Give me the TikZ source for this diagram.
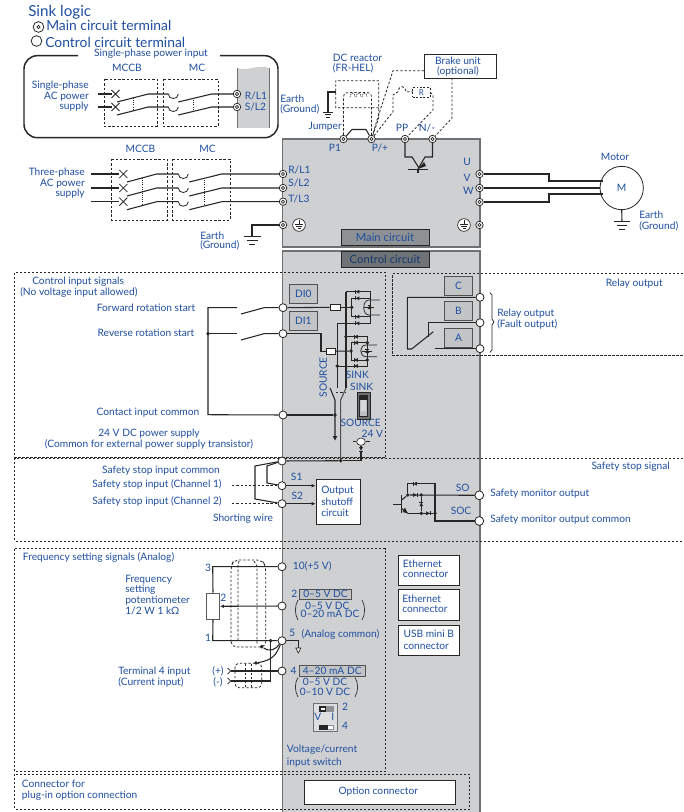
\documentclass[tikz,border=0pt]{standalone}
\usepackage{fontspec}
\setmainfont{Lato}
\usetikzlibrary{arrows.meta,shapes.geometric}
\definecolor{ink}{HTML}{262626}
\definecolor{txt}{HTML}{1F4FA0}
\definecolor{gbox}{HTML}{CFD0D2}
\definecolor{gedge}{HTML}{6F7173}
\definecolor{gmain}{HTML}{8E9194}
\definecolor{gctrl}{HTML}{707376}
\definecolor{gsmall}{HTML}{BDBFC1}
\tikzset{
  x=0.75pt,y=-0.75pt,
  wire/.style={draw=ink,line width=0.8pt},
  thin wire/.style={draw=ink,line width=0.55pt},
  dash line/.style={draw=ink,line width=0.6pt,dash pattern=on 1.8pt off 1.4pt},
  region/.style={draw=ink,line width=0.5pt,dash pattern=on 1.7pt off 1.3pt},
  txtn/.style={inner sep=0pt,text=txt,font=\fontsize{7.65}{8.5}\selectfont},
  tc/.style={txtn,anchor=center},
  tl/.style={txtn,anchor=west},
  tr/.style={txtn,anchor=east},
  head/.style={tl,font=\fontsize{10.4}{12}\selectfont},
  mterm/.style={circle,draw=ink,line width=0.55pt,fill=white,minimum size=5.6pt,inner sep=0pt,
    path picture={\draw[ink,line width=0.5pt] (path picture bounding box.center) circle (1.6);}},
  cterm/.style={circle,draw=ink,line width=0.6pt,fill=white,minimum size=6pt,inner sep=0pt},
  dotn/.style={circle,fill=ink,minimum size=2.9pt,inner sep=0pt},
  whitebox/.style={draw=ink,line width=0.6pt,fill=white,inner sep=0pt,anchor=north west},
  graybox/.style={draw=ink!80,line width=0.6pt,fill=gsmall!70!gbox,inner sep=0pt,anchor=center,text=txt,font=\fontsize{7.65}{8.5}\selectfont},
  arr/.style={-{Latex[length=3pt,width=2.6pt]}},
}
\newcommand\diodeH[3]{\begin{scope}[shift={(#1,#2)},xscale=#3]\fill[ink] (-1.8,-1.9)--(1.8,0)--(-1.8,1.9)--cycle;\draw[ink,line width=0.45pt] (1.8,-1.9)--(1.8,1.9);\end{scope}}
\newcommand\diodeV[3]{\begin{scope}[shift={(#1,#2)},yscale=#3]\fill[ink] (-1.9,-1.8)--(0,1.8)--(1.9,-1.8)--cycle;\draw[ink,line width=0.45pt] (-1.9,1.8)--(1.9,1.8);\end{scope}}
\newcommand\gndsym[3]{\begin{scope}[shift={(#1,#2)},scale=#3]\draw[ink,line width=0.6pt] (-8.5,0)--(8.5,0) (-5.5,4.5)--(5.5,4.5) (-3,8.5)--(3,8.5);\end{scope}}
\newcommand\crossm[2]{\begin{scope}[shift={(#1,#2)}]\draw[ink,line width=0.55pt] (-4,-4)--(4,4) (-4,4)--(4,-4);\end{scope}}
\newcommand\dcup[2]{\begin{scope}[shift={(#1,#2)}]\draw[ink,line width=0.6pt] (0,0) .. controls (0,6) and (10,6) .. (10,0);\end{scope}}
\begin{document}
\begin{tikzpicture}
\useasboundingbox (0,0) rectangle (683,812);
\fill[white] (0,0) rectangle (683,812);
% grey blocks
\draw[gedge,line width=0.9pt,fill=gbox] (282.5,139) rectangle (480,247);
\draw[gedge,line width=0.9pt,fill=gbox] (282.5,812) -- (282.5,251) -- (480,251) -- (480,812);
\node[draw=ink,line width=0.6pt,fill=gmain,inner sep=0pt,minimum width=66pt,minimum height=12pt,text=txt,font=\fontsize{8.5}{10}\selectfont] (mainbox) at (385,237) {Main circuit};
\node[draw=ink,line width=0.6pt,fill=gctrl,inner sep=0pt,minimum width=66pt,minimum height=12pt,text=txt!70!black,font=\fontsize{8.5}{10}\selectfont] (ctrlbox) at (385,259) {Control circuit};
% dashed regions
\draw[region] (385,457) -- (385,272) -- (14.7,272) -- (14.7,457) -- (385,457);
\draw[region] (683,458.5) -- (14.7,458.5) -- (14.7,541) -- (683,541);
\draw[region] (683,273.7) -- (392.7,273.7) -- (392.7,355.7) -- (683,355.7);
\draw[region] (14.7,548.7) rectangle (385,771.7);
\draw[region] (14.7,774) rectangle (469.5,809);
% heading
\node[tl,font=\fontsize{11.4}{13}\selectfont] (hsink) at (28,12) {Sink logic};
\node[mterm,minimum size=8pt,line width=0.6pt] (hmain) at (38.5,27) {};
\node[head] (hmaint) at (46,25.5) {Main circuit terminal};
\node[cterm,minimum size=8pt] (hctrl) at (36.5,41) {};
\node[head] (hctrlt) at (45,42.5) {Control circuit terminal};
% single-phase box
\draw[ink,line width=1.1pt,rounded corners=10pt] (78,55.7) -- (24,55.7) -- (24,137.7) -- (278,137.7) -- (278,55.7) -- (220,55.7);
\node[tc] (spin) at (151,54) {Single-phase power input};
\fill[gbox] (237,68) .. controls (246,72) and (258,64) .. (269,68) -- (269,128) -- (237,128) -- cycle;
\draw[gedge,line width=0.7pt] (237,68) -- (237,128) (269,68) -- (269,128);
\node[tc] (m1) at (127,68) {MCCB};
\node[tc] (m2) at (197,68) {MC};
\draw[dash line] (104,79) rectangle (157,126);
\draw[dash line] (163,79) rectangle (218,126);
\node[tr] (sp1) at (89,85.7) {Single-phase};
\node[tr] (sp2) at (89,96.7) {AC power};
\node[tr] (sp3) at (89,107) {supply};
\node[mterm] (tRa) at (237,94) {};
\node[mterm] (tSa) at (237,107) {};
\node[tl] (lRa) at (244.5,95.5) {R/L1};
\node[tl] (lSa) at (244.5,106.5) {S/L2};
\foreach \yy/\nm in {94/tRa,107/tSa}{
  \draw[wire] (98,\yy) -- (112,\yy);
  \crossm{115.5}{\yy}
  \draw[wire] (117,\yy+8) -- (148.3,\yy) -- (168.3,\yy);
  \dcup{168.3}{\yy}
  \draw[wire] (178.3,\yy+8) -- (211.7,\yy) -- (\nm);
}
\draw[densely dotted,ink,line width=0.6pt] (133,98) -- (133,110);
\draw[densely dotted,ink,line width=0.6pt] (193,98) -- (193,110);
% three-phase
\node[tc] (m3) at (140.5,149) {MCCB};
\node[tc] (m4) at (207.5,149) {MC};
\draw[dash line] (111.7,159) rectangle (167,220);
\draw[dash line] (172.7,159) rectangle (230,220);
\node[tr] (tp1) at (85,172.7) {Three-phase};
\node[tr] (tp2) at (85,184) {AC power};
\node[tr] (tp3) at (85,194) {supply};
\node[mterm] (tR) at (283,174) {};
\node[mterm] (tS) at (283,188) {};
\node[mterm] (tT) at (283,201.7) {};
\node[mterm] (tE) at (283,225) {};
\foreach \yy/\nm in {174/tR,188/tS,201.7/tT}{
  \draw[wire] (90.7,\yy) -- (119,\yy);
  \crossm{123.3}{\yy}
  \draw[wire] (127,\yy+8) -- (156.7,\yy) -- (178.3,\yy);
  \dcup{178.3}{\yy}
  \draw[wire] (189.3,\yy+8) -- (221.7,\yy) -- (\nm);
}
\draw[densely dotted,ink,line width=0.6pt] (142,178) -- (142,205);
\draw[densely dotted,ink,line width=0.6pt] (204.5,178) -- (204.5,205);
\draw[wire] (tE) -- (252,225) -- (252,236);
\gndsym{252}{236}{1}
\node[tl] (eg1) at (200,235.5) {Earth};
\node[tl] (eg2) at (200,245.7) {(Ground)};
\node[tl] (lR) at (288,169.5) {R/L1};
\node[tl] (lS) at (288,183) {S/L2};
\node[tl] (lT) at (288,199) {T/L3};
% earth circles
\node[circle,draw=ink,line width=0.5pt,fill=white,minimum size=9.5pt,inner sep=0pt] (ec1) at (299,225) {};
\node[circle,draw=ink,line width=0.5pt,fill=white,minimum size=9.5pt,inner sep=0pt] (ec2) at (464,225) {};
\foreach \xx in {299,464}{
  \draw[ink,line width=0.4pt] (\xx,220) -- (\xx,224) (\xx-4,224) -- (\xx+4,224) (\xx-3,226) -- (\xx+3,226) (\xx-1.5,228) -- (\xx+1.5,228);
}
% top terminals
\node[mterm] (tP1) at (343.5,139) {};
\node[mterm] (tPp) at (371.5,139) {};
\node[mterm] (tPP) at (405,139) {};
\node[mterm] (tN) at (432.5,139) {};
\node[tr] (ljump) at (342,127) {Jumper};
\node[tc] (lP1) at (335,148) {P1};
\node[tc] (lPp) at (380,148) {P/+};
\node[tc] (lPP) at (402,128) {PP};
\node[tc] (lN) at (427,128) {N/-};
\draw[wire] (tP1) -- (352,129.5) -- (366,129.5) -- (tPp);
% reactor
\node[tl] (dc1) at (332.7,58) {DC reactor};
\node[tl] (dc2) at (332.7,68.5) {(FR-HEL)};
\draw[dash line] (378.7,107.7) -- (335.7,107.7) -- (335.7,80.7) -- (378.7,80.7) -- (378.7,118) -- (tPp);
\draw[dash line] (tP1) -- (343.5,97) .. controls (344,93) and (346,92.5) .. (349,92.5) -- (366,92.5) .. controls (370,92.5) and (371.5,94) .. (371.5,98) -- (tPp);
\foreach \xx in {350,356,362}{\draw[ink,line width=0.45pt,dash pattern=on 1pt off 0.7pt] (\xx,97) .. controls (\xx,92) and (\xx+5,92) .. (\xx+5,97);}
\draw[wire] (336,92) -- (328,92) -- (328,112);
\gndsym{328}{112}{0.6}
\node[tl] (eg3) at (280,98.5) {Earth};
\node[tl] (eg4) at (280,109.5) {(Ground)};
% brake unit
\node[whitebox,minimum width=53.8pt,minimum height=18.3pt,draw=ink] (brake) at (424,53.7) {};
\node[tc] (bk1) at (458,60.7) {Brake unit};
\node[tc] (bk2) at (458,71.7) {(optional)};
\coordinate (brakeL) at (424,70.7);
\coordinate (brakeB) at (452,78);
\draw[dash line] (brakeL) -- (393,70.7) -- (377,120) -- (tPp);
\draw[dash line] (brakeB) -- (452,118) -- (tN);
% R
\draw[dash line] (tPp) -- (393,111.7) -- (393,95) -- (398,91.7) .. controls (399,85) and (405,85) .. (406,91.7) -- (412.7,91.7);
\node[draw=ink,line width=0.5pt,dash pattern=on 1.4pt off 1.2pt,minimum width=12.8pt,minimum height=7.2pt,inner sep=0pt,text=txt,font=\fontsize{6}{7}\selectfont] (rbox) at (421.3,92.5) {R};
\draw[dash line] (rbox.east) -- (433,95) -- (433,110) -- (tPP);
% brake transistor
\draw[wire] (tPP) -- (405,157) -- (412,157) -- (419,168);
\draw[wire] (tN) -- (432.5,157) -- (425,157) -- (418,169);
\fill[ink] (418,169) -- (424,162) -- (426,166) -- cycle;
\draw[wire] (408,169.5) -- (428,169.5) (418,169.5) -- (418,173);
% output
\node[mterm] (tU) at (479.5,174) {};
\node[mterm] (tV) at (479.5,188) {};
\node[mterm] (tW) at (479.5,202) {};
\node[mterm] (tE2) at (479.5,225) {};
\node[tc] (lU) at (467,162) {U};
\node[tc] (lV) at (467,178) {V};
\node[tc] (lW) at (468.5,191) {W};
\node[circle,draw=ink,line width=0.6pt,fill=white,minimum size=32.5pt,inner sep=0pt,text=txt,font=\fontsize{7.65}{8.5}\selectfont] (motor) at (621.7,188) {M};
\node[tc] (lmot) at (615,156.5) {Motor};
\draw[wire] (tU) -- (549,174) -- (549,181) -- (603,181);
\draw[wire] (tV) -- (motor);
\draw[wire] (tW) -- (549,202) -- (549,194) -- (603,194);
\draw[wire] (motor.south) -- (622,221);
\gndsym{622}{221}{0.95}
\node[tl] (eg5) at (639,215) {Earth};
\node[tl] (eg6) at (639,226) {(Ground)};
% control inputs
\node[tl] (ci1) at (32,281.7) {Control input signals};
\node[tl] (ci2) at (20,292.3) {(No voltage input allowed)};
\node[tc] (ci3) at (146,308) {Forward rotation start};
\node[tc] (ci4) at (146,332.7) {Reverse rotation start};
\node[tc] (ci5) at (148,412.7) {Contact input common};
\node[tc] (ci6) at (149,433.7) {24 V DC power supply};
\node[tc] (ci7) at (149,444.7) {(Common for external power supply transistor)};
\node[cterm] (tDI0) at (283,307.7) {};
\node[cterm] (tDI1) at (283,333.7) {};
\node[cterm] (tSD) at (283,415) {};
\node[cterm] (tPC) at (282,461) {};
\node[cterm] (tS1) at (282,485.7) {};
\node[cterm] (tS2) at (282,503.7) {};
\coordinate (jcom) at (208,333.7);
\draw[wire] (237,307.7) -- (208,307.7) -- (208,414.7) -- (tSD);
\draw[wire] (237,333.7) -- (jcom);
\node[dotn] (jd) at (jcom) {};
\draw[wire] (241,314) -- (264,307.7) -- (tDI0);
\draw[wire] (241,340) -- (264,333.7) -- (tDI1);
\node[graybox,minimum width=21pt,minimum height=14.2pt] (bDI0) at (303.3,293.8) {DI0};
\node[graybox,minimum width=21pt,minimum height=14pt] (bDI1) at (303.3,320.7) {DI1};
% bridge 1
\node[dotn] (n1) at (351.7,307.3) {};
\node[draw=ink,line width=0.6pt,fill=white,minimum width=7.5pt,minimum height=4.5pt,inner sep=0pt] (r1) at (335,307.3) {};
\draw[wire] (tDI0) -- (r1);
\draw[wire] (r1) -- (n1);
\draw[thin wire] (346,291.7) -- (370,291.7) -- (370,323.3) -- (337.3,323.3);
\draw[thin wire] (351.7,298.3) -- (370,298.3) (351.7,316.7) -- (370,316.7) (351.7,298.3) -- (351.7,316.7);
\diodeH{357.5}{291.7}{-1}\diodeH{357.5}{298.3}{-1}\diodeH{357.5}{316.7}{-1}\diodeH{357.5}{323.3}{-1}
\draw[thin wire] (380,300) -- (369,300) .. controls (362,300) and (362,315) .. (369,315) -- (380,315);
\diodeV{369.5}{307.3}{-1}
\draw[thin wire] (364,307.3) -- (374,307.3);
% bridge 2
\node[draw=ink,line width=0.6pt,fill=white,minimum width=6.8pt,minimum height=4.5pt,inner sep=0pt] (r2) at (330.5,351.3) {};
\node[dotn] (n2) at (351,351) {};
\draw[wire] (tDI1) -- (321,333.7) -- (321,351.3) -- (r2);
\draw[wire] (r2) -- (n2);
\draw[thin wire] (346,336.7) -- (367.3,336.7) -- (367.3,366) -- (337.3,366);
\draw[thin wire] (351,342.7) -- (367.3,342.7) (351,360) -- (367.3,360) (351,342.7) -- (351,360);
\node[dotn] (n3) at (346,336.7) {};
\node[dotn] (n4) at (367.3,342.7) {};
\node[dotn] (n5) at (367.3,360) {};
\node[dotn] (n6) at (337.3,366) {};
\diodeH{356}{336.7}{-1}\diodeH{356}{342.7}{-1}\diodeH{356}{360}{-1}\diodeH{356}{366}{-1}
\draw[thin wire] (377,345) -- (366,345) .. controls (359,345) and (359,356.7) .. (366,356.7) -- (377,356.7);
\diodeV{367.3}{351}{-1}
\draw[thin wire] (362,351) -- (372,351);
% fork
\draw[wire] (346,291.7) -- (346,388);
\draw[wire] (337.3,323.3) -- (337.3,388);
\draw[gedge!70!black,line width=0.8pt] (346,388) -- (340.7,400) -- (340.7,460.7);
\draw[wire] (330,388) -- (335,400) -- (335,436);
\draw[dash line] (336,392) -- (346,392);
\fill[ink] (332.7,436) -- (337.3,436) -- (335,440.5) -- cycle;
\node[dotn] (n7) at (335,415) {};
\draw[wire] (tSD) -- (n7);
\node[dotn] (n8) at (340.7,460.7) {};
\draw[wire] (tPC) -- (n8);
\node[rotate=90,tc] (lsrc) at (323.3,377.3) {SOURCE};
\node[tc] (lsk1) at (357.3,374.5) {SINK};
\node[tc] (lsk2) at (361.7,386.7) {SINK};
\node[tc] (lsrc2) at (360.7,423.3) {SOURCE};
\node[tc] (l24) at (372.3,434.3) {24 V};
% sink/source switch
\fill[gedge] (357.7,392.3) rectangle (370.7,419);
\draw[ink,line width=0.4pt] (357.7,392.3) rectangle (370.7,419);
\fill[gsmall] (359.5,395) rectangle (367,416);
\fill[ink] (359.5,395) rectangle (367,400);
\draw[ink,line width=0.4pt] (359.5,395) rectangle (367,416);
\fill[gsmall!60!white] (360.5,400) rectangle (366,411);
% 24 V element
\node[draw=ink,line width=0.5pt,ellipse,fill=white,minimum width=6.5pt,minimum height=5.5pt,inner sep=0pt] (e24) at (361,441.7) {};
\draw[thin wire] (353,441.7) -- (e24) (e24) -- (370,441.7);
\draw[wire] (n8) -- (361,460.7) -- (361,451.7);
\diodeV{361}{449}{1}
\draw[wire] (e24) -- (361,447);
% relay
\node[graybox,minimum width=21.3pt,minimum height=14.2pt] (bC) at (458.5,286.2) {C};
\node[graybox,minimum width=21.3pt,minimum height=14.2pt] (bB) at (458.5,310.8) {B};
\node[graybox,minimum width=21.3pt,minimum height=14pt] (bA) at (458.5,337.6) {A};
\node[cterm] (tC) at (480,297.3) {};
\node[cterm] (tB) at (480,322.7) {};
\node[cterm] (tA) at (480,348.7) {};
\draw[wire] (tC) -- (407.3,297.3) -- (407.3,349) -- (411.7,349) -- (433.3,331.7);
\draw[wire] (tB) -- (428.3,322.7) -- (428.3,336.7);
\draw[wire] (tA) -- (435,348.7);
\draw[thin wire] (490,292.7) -- (492,295) -- (492,319) -- (494,322) -- (492,325) -- (492,350) -- (490,352.3);
\node[tl] (rl1) at (497,313.5) {Relay output};
\node[tl] (rl2) at (497,324) {(Fault output)};
\node[tr] (rl3) at (663,284) {Relay output};
\node[tr] (sss) at (670,467) {Safety stop signal};
% safety stop
\node[tc] (ss1) at (161,470.7) {Safety stop input common};
\node[tc] (ss2) at (157,484.7) {Safety stop input (Channel 1)};
\node[tc] (ss3) at (157,501.3) {Safety stop input (Channel 2)};
\node[tc] (ss4) at (243,518.7) {Shorting wire};
\draw[wire] (tPC) -- (255,466) -- (255,499) -- (tS2);
\draw[wire] (tPC) -- (267,466) -- (267,483) -- (tS1);
\draw[dash line] (232,485.7) -- (277,485.7);
\draw[dash line] (232,503.7) -- (277,503.7);
\node[whitebox,minimum width=33.2pt,minimum height=34pt] (osc) at (315.7,479) {};
\node[tl] (os1) at (321,490.7) {Output};
\node[tl] (os2) at (321,501.7) {shutoff};
\node[tl] (os3) at (321,512.7) {circuit};
\draw[wire,arr] (tS1) -- (osc.west |- tS1);
\draw[wire,arr] (tS2) -- (osc.west |- tS2);
\node[tc] (lS1) at (296.7,477.3) {S1};
\node[tc] (lS2) at (297.3,496) {S2};
% safety output
\node[cterm,minimum size=6.6pt] (tSO) at (479.3,495.3) {};
\node[cterm,minimum size=6.6pt] (tSOC) at (479.3,521) {};
\node[tc] (lSO) at (462.7,488.3) {SO};
\node[tc] (lSOC) at (461,511) {SOC};
\node[tl] (smo1) at (490,494) {Safety monitor output};
\node[tl] (smo2) at (490,520) {Safety monitor output common};
\node[dotn] (q1) at (407.7,495) {};
\node[dotn] (q2) at (421.3,495) {};
\node[dotn] (q3) at (421.3,513.3) {};
\node[dotn] (q4) at (435,513.3) {};
\draw[wire] (q1) -- (407.7,483.7) -- (435,483.7) -- (435,521) -- (tSOC);
\draw[wire] (q1) -- (tSO);
\draw[wire] (q2) -- (q3);
\draw[wire] (407.7,513.3) -- (q4);
\draw[wire] (393,504.3) -- (401.7,504.3) (401.7,495) -- (401.7,513.3);
\draw[wire] (401.7,500) -- (q1) (401.7,508.5) -- (407.7,513.3);
\fill[ink] (407.7,513.3) -- (402.5,512) -- (405,507.5) -- cycle;
\diodeH{415}{483.7}{-1}\diodeH{415}{495}{1}\diodeV{421.3}{504.3}{-1}\diodeH{428}{513.3}{1}
% analog
\node[tl] (fs0) at (22.7,557.7) {Frequency setting signals (Analog)};
\node[tl] (fs1) at (125,579.7) {Frequency};
\node[tl] (fs2) at (125,589.7) {setting};
\node[tl] (fs3) at (125,600.7) {potentiometer};
\node[tl] (fs4) at (125,611.3) {1/2 W 1 kΩ};
\node[tl] (ft1) at (118,671.7) {Terminal 4 input};
\node[tl] (ft2) at (118,682.3) {(Current input)};
\node[tc] (fp) at (218,671.7) {(+)};
\node[tc] (fm) at (218,682.3) {(-)};
\node[cterm] (t10) at (282,566.7) {};
\node[cterm] (t2) at (282,606) {};
\node[cterm] (t5) at (282,640.7) {};
\node[cterm] (t4) at (282,671) {};
\node[draw=gedge!80!black,line width=0.9pt,fill=white,minimum width=9.4pt,minimum height=19.5pt,inner sep=0pt] (pot) at (213,606.3) {};
\draw[wire] (t10) -- (212.7,566.7) -- (pot.north);
\draw[wire] (pot.south) -- (212.7,640.7) -- (t5);
\draw[wire,arr] (t2) -- (pot.east);
\node[tc] (p3) at (208,568) {3};
\node[tc] (p2) at (223.3,597.7) {2};
\node[tc] (p1) at (208,637.7) {1};
\draw[dash line,rounded corners=4pt] (231,647) -- (231,566) -- (234,560) -- (262,560) -- (265.7,566) -- (265.7,647) -- cycle;
\draw[dash line] (239,561) -- (238,566) -- (238,640);
\draw[dash line] (254,561) -- (257,566) -- (257,645);
\draw[dash line,rounded corners=3pt] (235,663.3) rectangle (261.7,687.7);
\draw[dash line] (245,664) -- (245,687) (251.7,664) -- (251.7,687);
\draw[wire] (t4) -- (230.7,671);
\draw[wire] (230.7,681) -- (270.7,681) -- (270.7,640.7);
\draw[thin wire] (227.5,668) -- (230.7,671) -- (227.5,674) (227.5,678) -- (230.7,681) -- (227.5,684);
\node[dotn] (a1) at (270.7,640.7) {};
\node[dotn] (a2) at (261.7,646.7) {};
\node[dotn] (a3) at (256,663) {};
\draw[wire] (a2) .. controls (270,652) and (275,650) .. (t5);
\draw[wire] (a3) .. controls (273,660) and (276,655) .. (t5);
\draw[wire] (t5) -- (298.3,640.7) -- (298.3,648);
\draw[ink,line width=0.5pt,fill=white] (295.8,648) -- (300.8,648) -- (298.3,653) -- cycle;
\node[tl] (l10) at (292.7,566.7) {10(+5 V)};
\node[tc] (l2) at (294.3,594) {2};
\node[graybox,minimum width=39.3pt,minimum height=7.7pt] (v2) at (325.5,594.2) {0–5 V DC};
\node[tc] (v21) at (327.3,605.7) {0–5 V DC};
\node[tc] (v22) at (330,614.3) {0–20 mA DC};
\draw[ink,line width=0.5pt] (298,600) .. controls (294.5,606) and (294.5,614) .. (298,620);
\draw[ink,line width=0.5pt] (362,600) .. controls (365.5,606) and (365.5,614) .. (362,620);
\node[tc] (l5) at (292.3,633.3) {5};
\node[tl] (l5b) at (301.3,634.7) {(Analog common)};
\node[tc] (l4) at (293.7,671.3) {4};
\node[graybox,minimum width=49.7pt,minimum height=8pt] (v4) at (332.2,671) {4–20 mA DC};
\node[tc] (v41) at (325,682.3) {0–5 V DC};
\node[tc] (v42) at (325,692) {0–10 V DC};
\draw[ink,line width=0.5pt] (298,677.5) .. controls (294.5,683) and (294.5,691) .. (298,697);
\draw[ink,line width=0.5pt] (355,677.5) .. controls (358.5,683) and (358.5,691) .. (355,697);
% V/I switch
\draw[gedge,line width=0.6pt,fill=white!30!gbox] (313.3,703.3) rectangle (337.7,731.7);
\fill[gmain] (319,706) rectangle (334.3,711.5);
\fill[ink] (319,706) rectangle (326,711.5);
\fill[white] (321,707.5) rectangle (324.5,710);
\fill[gmain] (319,724.5) rectangle (334.3,730);
\fill[ink] (319,724.5) rectangle (328,730);
\fill[white] (328,725.5) rectangle (333,729);
\node[tc] (sV) at (317.7,717.3) {V};
\node[tc] (sI) at (332.7,717.3) {I};
\node[tc] (s2) at (345,706.7) {2};
\node[tc] (s4) at (345,725.7) {4};
\node[tl] (vc1) at (286.7,749.7) {Voltage/current};
\node[tl] (vc2) at (286.7,762.7) {input switch};
% connectors
\node[whitebox,minimum width=46.2pt,minimum height=22.3pt] (eth1) at (397.7,555) {};
\node[tl] (e11) at (402.7,563.3) {Ethernet};
\node[tl] (e12) at (402.7,574.3) {connector};
\node[whitebox,minimum width=46.2pt,minimum height=23.2pt] (eth2) at (397.7,589.3) {};
\node[tl] (e21) at (402,598.7) {Ethernet};
\node[tl] (e22) at (402,609.3) {connector};
\node[whitebox,minimum width=45.3pt,minimum height=22.7pt] (usb) at (398.3,625) {};
\node[tl] (u1) at (403.3,634.3) {USB mini B};
\node[tl] (u2) at (403.3,645.7) {connector};
\node[whitebox,minimum width=113.2pt,minimum height=18pt] (optb) at (304.3,779.7) {};
\node[tc] (optt) at (378.3,791.7) {Option connector};
\node[tl] (cf1) at (21.7,784.3) {Connector for};
\node[tl] (cf2) at (21.7,795.7) {plug-in option connection};
\end{tikzpicture}
\end{document}
